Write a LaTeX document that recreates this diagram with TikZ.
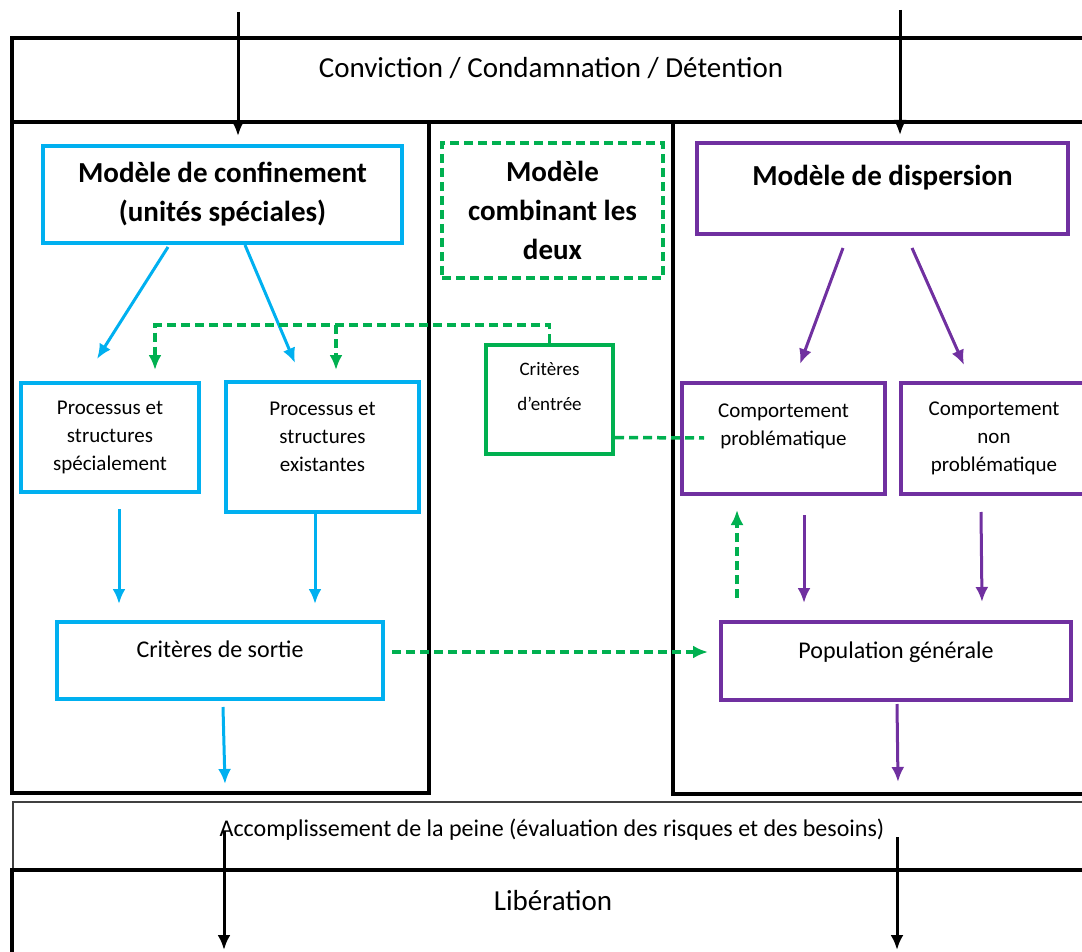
\documentclass[tikz,border=0pt]{standalone}
\usepackage{fontspec}
\setmainfont{Carlito}
\usepackage{xcolor}
\definecolor{bleuM}{HTML}{00B0F0}
\definecolor{violM}{HTML}{7030A0}
\definecolor{vertM}{HTML}{00B050}
\usetikzlibrary{arrows.meta,
                positioning}

\begin{document}
\begin{tikzpicture}[x=1pt,y=-1pt,
    cadre/.style={draw=black,line width=3.5pt},
    boite/.style={draw,line width=4pt,align=center,inner sep=0pt},
    bleu/.style={boite,draw=bleuM},
    viol/.style={boite,draw=violM},
    titre/.style={font=\fontsize{29}{39}\selectfont\bfseries},
    grand/.style={font=\fontsize{29}{35}\selectfont},
    moyen/.style={font=\fontsize{24}{30}\selectfont},
    petit/.style={font=\fontsize{21}{28}\selectfont},
    fl/.style={line width=3pt,-{Latex[length=15pt,width=13pt]}},
    tirets/.style={draw=vertM,line width=3.5pt,dash pattern=on 9pt off 5pt}]
\clip (0,0) rectangle (1082,952);
% bandes et colonnes
\draw[cadre] (12,38) rectangle (1095,122);
\draw[cadre] (12,122) rectangle (429,793);
\draw[cadre] (673,122) rectangle (1095,794);
\draw[cadre,draw=black!75,line width=2.5pt] (13,802) rectangle (1095,870);
\draw[cadre] (12,870) rectangle (1095,960);
\node[grand] (conv) at (551,68) {Conviction / Condamnation / Détention};
\node[moyen] (accomp) at (552,830) {Accomplissement de la peine (évaluation des risques et des besoins)};
\node[grand] (lib) at (553,901) {Libération};
% boites
\node[bleu,titre,minimum width=359pt,minimum height=97pt] (conf) at (222.5,194.5) {Modèle de confinement\\(unités spéciales)};
\node[boite,draw=vertM,dash pattern=on 9pt off 5pt,line width=3.5pt,titre,minimum width=221pt,minimum height=135pt] (comb) at (552.5,210.5) {Modèle\\combinant les\\deux};
\node[viol,titre,minimum width=371pt,minimum height=91pt] (disp) at (882.5,188.5) {Modèle de dispersion\\[-12pt]~};
\node[bleu,petit,minimum width=178pt,minimum height=109pt] (spec) at (110,437.5) {Processus et\\structures\\spécialement};
\node[bleu,petit,minimum width=193pt,minimum height=130pt] (exist) at (322.5,447) {Processus et\\structures\\existantes\\[-8pt]~};
\node[boite,draw=vertM,font=\fontsize{19}{35}\selectfont,minimum width=127pt,minimum height=109pt] (entree) at (549.5,399.5) {Critères\\d’entrée\\[-9pt]~};
\node[viol,petit,minimum width=203pt,minimum height=111pt] (probl) at (783.5,438.5) {Comportement\\problématique\\~};
\node[viol,petit,minimum width=186pt,minimum height=111pt] (nonprobl) at (994,438.5) {Comportement\\non\\problématique};
\node[bleu,moyen,minimum width=326pt,minimum height=77pt] (sortie) at (220,660.5) {Critères de sortie\\[-8pt]~};
\node[viol,moyen,minimum width=350pt,minimum height=78pt] (popul) at (896,661) {Population générale\\[-8pt]~};
% extremites libres des fleches
\foreach \nom/\x/\y in {hautG/238/12, hautD/900/10, basG/224/831, finG/224/950, basD/897/837, finD/897/950,
    b1/168/247, b2/97/359, b3/245/245, b4/295/363, b5/119/509, b6/119/604, b7/315/512, b8/315/604, b9/223/707, b10/225/784,
    v1/843/248, v2/800/364, v3/912/248, v4/964/365, v5/804/515, v6/804/603, v7/981/512, v8/982/602, v9/897/704, v10/898/782,
    g1/155/325, g2/155/370, g3/336/325, g4/336/370, g5/704/438, g6/737/598, g7/737/510, g8/392/652, g9/708/652}
    \coordinate (\nom) at (\x,\y);
\draw[fl,shorten >=8pt] (hautG) -- (hautG |- conf.north);
\draw[fl,shorten >=6pt] (hautD) -- (hautD |- disp.north);
\draw[fl] (basG) -- (finG);
\draw[fl] (basD) -- (finD);
\foreach \a/\b in {b1/b2, b3/b4, b5/b6, b7/b8, b9/b10}
    \draw[fl,bleuM] (\a) -- (\b);
\foreach \a/\b in {v1/v2, v3/v4, v5/v6, v7/v8, v9/v10}
    \draw[fl,violM] (\a) -- (\b);
\draw[tirets,fl,line width=3.5pt] (entree.north) |- (g1) -- (g2);
\draw[tirets,fl,line width=3.5pt] (g3) -- (g4);
\draw[tirets] ([yshift=-38pt]entree.east) -- (g5);
\draw[tirets,fl,line width=3.5pt] (g6) -- (g7);
\draw[tirets,fl,line width=3.5pt] (g8) -- (g9);
\end{tikzpicture}
\end{document}
